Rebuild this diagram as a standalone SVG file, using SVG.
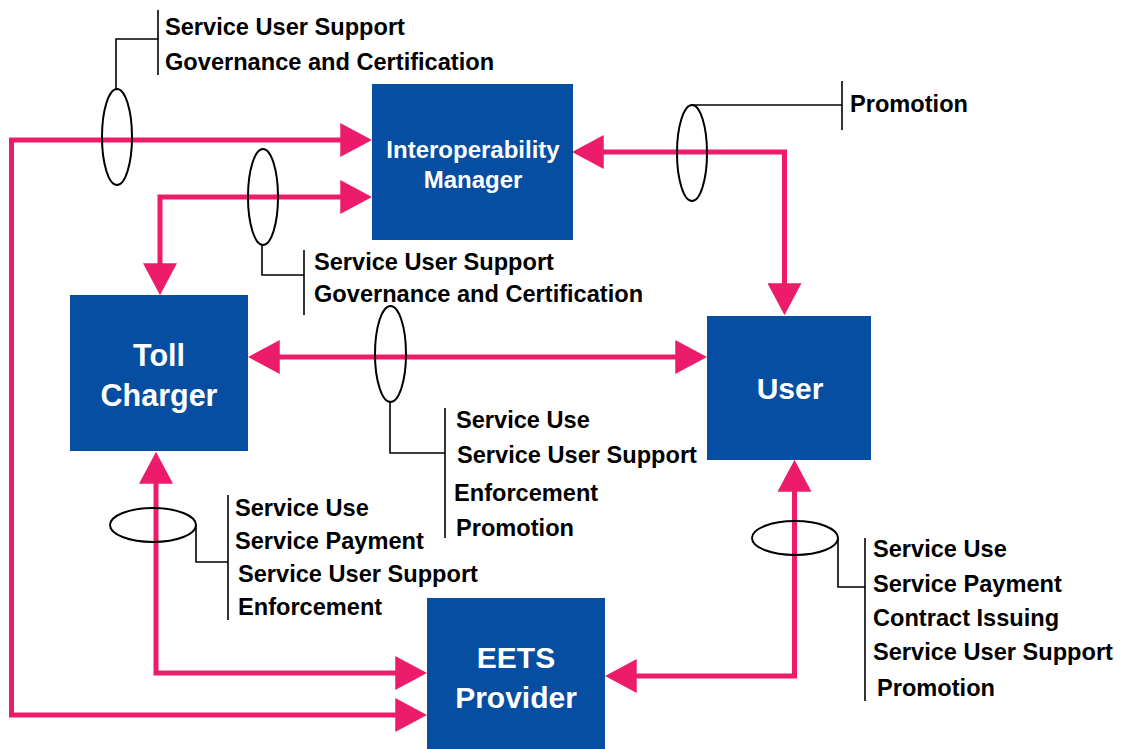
<svg xmlns="http://www.w3.org/2000/svg" width="1127" height="749" viewBox="0 0 1127 749">
  <style>
    .box { fill: #064EA2; }
    .name { font-family: "Liberation Sans", Arial, sans-serif; font-weight: bold; fill: #ffffff; text-anchor: middle; }
    .lbl { font-family: "Liberation Sans", Arial, sans-serif; font-weight: bold; font-size: 23.6px; fill: #000000; }
    .flow { fill: none; stroke: #ED1C6B; stroke-width: 5; stroke-linejoin: miter; marker-start: url(#head); marker-end: url(#head); }
    .ring { fill: none; stroke: #000000; stroke-width: 2; }
    .lead { fill: none; stroke: #000000; stroke-width: 1.6; }
  </style>
  <defs>
    <marker id="head" markerUnits="userSpaceOnUse" markerWidth="32" markerHeight="34" viewBox="0 0 31 33" refX="25" refY="16.5" orient="auto-start-reverse">
      <path d="M0,0 L31,16.5 L0,33 z" fill="#ED1C6B"/>
    </marker>
  </defs>

  <rect width="1127" height="749" fill="#ffffff"/>

  <!-- information flows between the actors -->
  <g id="connectors">
    <path class="flow" d="M366,140 H11.5 V715 H421"/>
    <path class="flow" d="M366,197 H160 V289"/>
    <path class="flow" d="M578,152 H784.5 V309"/>
    <path class="flow" d="M254,357 H701"/>
    <path class="flow" d="M156,458 V673 H421"/>
    <path class="flow" d="M794.5,466 V676 H611"/>
  </g>

  <!-- bundles of services carried on each flow -->
  <g id="bundle-outer">
    <ellipse class="ring" cx="117" cy="137" rx="15" ry="48"/>
    <path class="lead" d="M116,89 V39 H158"/>
    <line class="lead" x1="158" y1="10" x2="158" y2="75"/>
    <text class="lbl" x="165" y="35">Service User Support</text>
    <text class="lbl" x="165" y="70">Governance and Certification</text>
  </g>

  <g id="bundle-toll-im">
    <ellipse class="ring" cx="263" cy="197" rx="15" ry="48"/>
    <path class="lead" d="M262,245 V275 H304"/>
    <line class="lead" x1="304" y1="250" x2="304" y2="315"/>
    <text class="lbl" x="314" y="270">Service User Support</text>
    <text class="lbl" x="314" y="302">Governance and Certification</text>
  </g>

  <g id="bundle-im-user">
    <ellipse class="ring" cx="692" cy="153" rx="15" ry="48"/>
    <path class="lead" d="M692,105 H842"/>
    <line class="lead" x1="842" y1="81" x2="842" y2="130"/>
    <text class="lbl" x="850" y="112">Promotion</text>
  </g>

  <g id="bundle-toll-user">
    <ellipse class="ring" cx="390.5" cy="354" rx="15.5" ry="48"/>
    <path class="lead" d="M390,402 V453 H445"/>
    <line class="lead" x1="445" y1="408" x2="445" y2="538"/>
    <text class="lbl" x="456" y="428">Service Use</text>
    <text class="lbl" x="457" y="463">Service User Support</text>
    <text class="lbl" x="454" y="501">Enforcement</text>
    <text class="lbl" x="456" y="536">Promotion</text>
  </g>

  <g id="bundle-toll-eets">
    <ellipse class="ring" cx="153" cy="525" rx="43" ry="17"/>
    <path class="lead" d="M196,525 V562 H228"/>
    <line class="lead" x1="228" y1="495" x2="228" y2="620"/>
    <text class="lbl" x="235" y="516">Service Use</text>
    <text class="lbl" x="235" y="549">Service Payment</text>
    <text class="lbl" x="238" y="582">Service User Support</text>
    <text class="lbl" x="238" y="615">Enforcement</text>
  </g>

  <g id="bundle-user-eets">
    <ellipse class="ring" cx="795" cy="538" rx="43" ry="17"/>
    <path class="lead" d="M838,538 V587 H865"/>
    <line class="lead" x1="865" y1="538" x2="865" y2="701"/>
    <text class="lbl" x="873" y="557">Service Use</text>
    <text class="lbl" x="873" y="592">Service Payment</text>
    <text class="lbl" x="873" y="626">Contract Issuing</text>
    <text class="lbl" x="873" y="660">Service User Support</text>
    <text class="lbl" x="877" y="696">Promotion</text>
  </g>

  <!-- actors -->
  <g id="interoperability-manager">
    <rect class="box" x="372" y="84" width="201" height="156"/>
    <text class="name" x="473" y="158" font-size="24">Interoperability</text>
    <text class="name" x="473" y="188" font-size="24">Manager</text>
  </g>

  <g id="toll-charger">
    <rect class="box" x="70" y="295" width="178" height="156"/>
    <text class="name" x="159" y="366" font-size="30.5">Toll</text>
    <text class="name" x="159" y="406" font-size="30.5">Charger</text>
  </g>

  <g id="user">
    <rect class="box" x="707" y="316" width="164" height="144"/>
    <text class="name" x="790" y="399" font-size="30">User</text>
  </g>

  <g id="eets-provider">
    <rect class="box" x="427" y="598" width="178" height="151"/>
    <text class="name" x="516" y="668" font-size="30">EETS</text>
    <text class="name" x="516" y="708" font-size="30">Provider</text>
  </g>
</svg>
